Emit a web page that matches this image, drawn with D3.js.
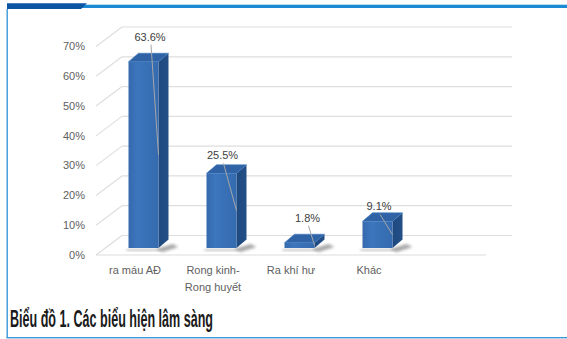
<!DOCTYPE html>
<html><head><meta charset="utf-8">
<script src="https://cdn.jsdelivr.net/npm/d3@7"></script>
<style>html,body{margin:0;padding:0;background:#fff;}svg{display:block;}</style>
</head><body>
<svg id="c" width="567" height="339"></svg>
<script>
// ---- data ----
const categories = ["ra máu AĐ", "Rong kinh-\nRong huyết", "Ra khí hư", "Khác"];
const values = [63.6, 25.5, 1.8, 9.1];
const yTicks = [0, 10, 20, 30, 40, 50, 60, 70];
const valueLabels = ["63.6%", "25.5%", "1.8%", "9.1%"];
const title = "Biểu đồ 1. Các biểu hiện lâm sàng";
// layout nudges for the manually placed value labels (dx, dy)
const labelNudge = [[6.5, -16.5], [1, -9.5], [8, -16.5], [1.5, -6.5]];

const svg = d3.select("#c");
const defs = svg.append("defs");

// frame
svg.append("rect").attr("x", 80).attr("y", 4.7).attr("width", 487).attr("height", 3.3).attr("fill", "#1a8ad2");
svg.append("path").attr("d", "M7,3.3 L87,3.3 L81,9 L7,9 Z").attr("fill", "#0b55a3");
svg.append("rect").attr("x", 6.5).attr("y", 9).attr("width", 1.4).attr("height", 329).attr("fill", "#3b97d8");
svg.append("rect").attr("x", 6.5).attr("y", 337).attr("width", 561).attr("height", 1.4).attr("fill", "#3b97d8");

// scales
const slots = [...categories, ""];
const x = d3.scaleBand().domain(slots).range([96, 486]).padding(0);
const yFront = d3.scaleLinear().domain([0, 70]).range([255, 46.5]);
const yBar = d3.scaleLinear().domain([0, 70]).range([248, 248 - 205]);
const WDX = 26, WDY = -19.5;     // wall depth
const BDX = 10, BDY = -8.5;      // bar depth
const barW = 30, barShift = 8.5;

// gridlines (3D walls)
const g = svg.append("g").attr("stroke", "#dedede").attr("stroke-width", 1.2).attr("fill", "none");
yTicks.forEach(t => {
  const yf = yFront(t);
  g.append("line").attr("x1", 96).attr("y1", yf).attr("x2", 96 + WDX).attr("y2", yf + WDY);
  g.append("line").attr("x1", 96 + WDX).attr("y1", yf + WDY).attr("x2", 486 + WDX).attr("y2", yf + WDY);
});
g.append("line").attr("x1", 96).attr("y1", yFront(0)).attr("x2", 486).attr("y2", yFront(0));

// tick labels
svg.append("g").selectAll("text").data(yTicks).join("text")
  .attr("x", 85).attr("y", d => yFront(d)).attr("dy", "0.35em")
  .attr("text-anchor", "end").attr("font-family", "Liberation Sans, Arial, sans-serif")
  .attr("font-size", 11).attr("fill", "#606060").text(d => d + "%");

// gradients
const gf = defs.append("linearGradient").attr("id", "gFront").attr("x1", 0).attr("x2", 1).attr("y1", 0).attr("y2", 0);
gf.append("stop").attr("offset", 0).attr("stop-color", "#3669ad");
gf.append("stop").attr("offset", 0.3).attr("stop-color", "#3c76bd");
gf.append("stop").attr("offset", 1).attr("stop-color", "#356aae");
const gs = defs.append("linearGradient").attr("id", "gSide").attr("x1", 0).attr("x2", 1);
gs.append("stop").attr("offset", 0).attr("stop-color", "#1f4a80");
gs.append("stop").attr("offset", 1).attr("stop-color", "#234f87");
const flt = defs.append("filter").attr("id", "blur").attr("x", "-50%").attr("y", "-50%").attr("width", "200%").attr("height", "200%");
flt.append("feGaussianBlur").attr("stdDeviation", 1.8);

// bars
const bars = svg.append("g");
categories.forEach((c, i) => {
  const v = values[i];
  const x0 = x(c) + x.bandwidth() / 2 - barW / 2 + barShift;
  const x1 = x0 + barW;
  const yb = yBar(0), yt = yBar(v);
  // shadow
  bars.append("path")
    .attr("d", `M${x1 - 2},${yb + 1} L${x1 + 14},${yb - 4} L${x1 + 20},${yb - 1} L${x1 + 4},${yb + 4} Z`)
    .attr("fill", "#000").attr("opacity", 0.35).attr("filter", "url(#blur)");
  bars.append("path")
    .attr("d", `M${x0 - 2},${yb + 1} L${x1 + 2},${yb + 1} L${x1 + 2},${yb + 3} L${x0 - 2},${yb + 3} Z`)
    .attr("fill", "#000").attr("opacity", 0.25).attr("filter", "url(#blur)");
  // side
  bars.append("path")
    .attr("d", `M${x1},${yt} L${x1 + BDX},${yt + BDY} L${x1 + BDX},${yb + BDY} L${x1},${yb} Z`)
    .attr("fill", "url(#gSide)");
  // front
  bars.append("rect").attr("x", x0).attr("y", yt).attr("width", barW).attr("height", yb - yt)
    .attr("fill", "url(#gFront)");
  // top
  bars.append("path")
    .attr("d", `M${x0},${yt} L${x0 + BDX},${yt + BDY} L${x1 + BDX},${yt + BDY} L${x1},${yt} Z`)
    .attr("fill", "#2f63a6").attr("stroke", "#3d78c0").attr("stroke-width", 0.6);
  // value label + leader
  const cx = (x0 + x1) / 2;
  const lx = cx + labelNudge[i][0], ly = yt + BDY + labelNudge[i][1];
  bars.append("line").attr("x1", lx + 1).attr("y1", ly + 8).attr("x2", x1).attr("y2", (yt + yb) / 2)
    .attr("stroke", "#a6a6a6").attr("stroke-width", 1);
  bars.append("text").attr("x", lx).attr("y", ly).attr("dy", "0.35em").attr("text-anchor", "middle")
    .attr("font-family", "Liberation Sans, Arial, sans-serif").attr("font-size", 11)
    .attr("fill", "#404040").text(valueLabels[i]);
});

// category labels
const cl = svg.append("g");
categories.forEach(c => {
  const lines = c.split("\n");
  const t = cl.append("text").attr("x", x(c) + x.bandwidth() / 2).attr("y", 274)
    .attr("text-anchor", "middle").attr("font-family", "Liberation Sans, Arial, sans-serif")
    .attr("font-size", 11).attr("fill", "#606060");
  lines.forEach((l, j) => t.append("tspan").attr("x", x(c) + x.bandwidth() / 2).attr("dy", j ? 17 : 0).text(l));
});

// title
svg.append("text").attr("x", 10).attr("y", 327)
  .attr("font-family", "Liberation Sans Narrow, Arial Narrow, sans-serif").attr("font-weight", "bold")
  .attr("font-size", 23).attr("fill", "#1a1a1a")
  .attr("textLength", 203).attr("lengthAdjust", "spacingAndGlyphs").text(title);
</script>
</body></html>
